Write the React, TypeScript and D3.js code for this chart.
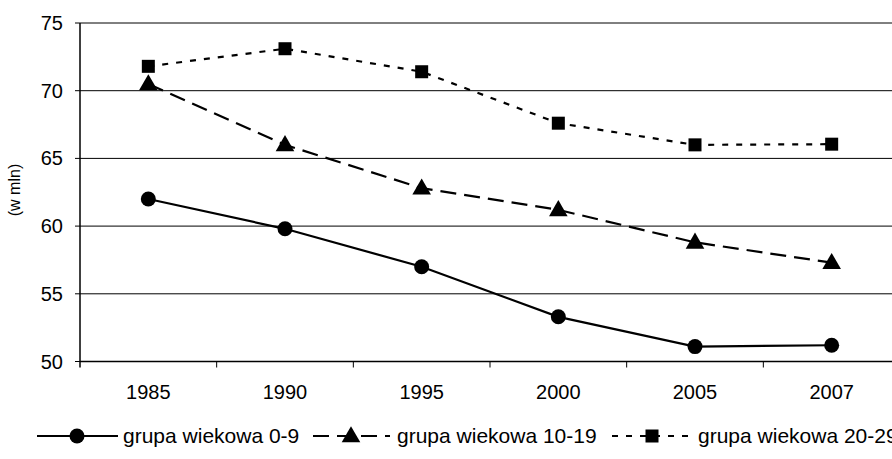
import React from "react";
import * as d3 from "d3";

const years = ["1985", "1990", "1995", "2000", "2005", "2007"];
const group0_9 = [62.0, 59.8, 57.0, 53.3, 51.1, 51.2];
const group10_19 = [70.5, 66.0, 62.8, 61.2, 58.8, 57.3];
const group20_29 = [71.8, 73.1, 71.4, 67.6, 66.0, 66.05];
const yTicks = [50, 55, 60, 65, 70, 75];
const seriesNames = ["grupa wiekowa 0-9", "grupa wiekowa 10-19", "grupa wiekowa 20-29"];

const W = 892;
const H = 459;
const left = 80;
const right = 900;
const top = 23;
const bottom = 361.5;

const series = [
  { name: seriesNames[0], values: group0_9, dash: "none", marker: "circle" },
  { name: seriesNames[1], values: group10_19, dash: "16,8", marker: "triangle" },
  { name: seriesNames[2], values: group20_29, dash: "6,8", marker: "square" },
];

function Marker({ type, x, y }: { type: string; x: number; y: number }) {
  if (type === "circle") return <circle cx={x} cy={y} r={7.5} fill="#000" />;
  if (type === "triangle") {
    const sym = d3.symbol(d3.symbolTriangle, 150)();
    return <path d={sym || ""} transform={`translate(${x},${y + 1})`} fill="#000" />;
  }
  return <rect x={x - 6.5} y={y - 6.5} width={13} height={13} fill="#000" />;
}

export default function App() {
  const x = d3.scaleBand().domain(years).range([left, right]);
  const y = d3.scaleLinear().domain([50, 75]).range([bottom, top]);
  const line = d3
    .line<number>()
    .x((_, i) => (x(years[i]) as number) + x.bandwidth() / 2)
    .y((d) => y(d));

  const legend = [
    { x0: 37, x1: 118, mx: 77, tx: 123 },
    { x0: 313, x1: 390, mx: 351, tx: 397 },
    { x0: 612, x1: 692, mx: 652, tx: 698 },
  ];
  const font = "'Liberation Sans', Arial, sans-serif";

  return (
    <svg
      width={W}
      height={H}
      style={{ position: "absolute", left: 0, top: 0, background: "#fff" }}
      fontFamily={font}
    >
      {yTicks.map((t) => (
        <g key={t}>
          {t > 50 && (
            <line x1={left} x2={right} y1={y(t)} y2={y(t)} stroke="#000" strokeWidth={1} />
          )}
          <line x1={left - 5} x2={left} y1={y(t)} y2={y(t)} stroke="#000" />
          <text x={left - 17} y={y(t)} dy="0.35em" textAnchor="end" fontSize={20}>
            {t}
          </text>
        </g>
      ))}
      <line x1={left} x2={left} y1={top} y2={bottom + 6} stroke="#000" strokeWidth={1.5} />
      <line x1={left} x2={right} y1={bottom} y2={bottom} stroke="#000" strokeWidth={1.5} />
      {years.map((yr) => (
        <g key={yr}>
          <line
            x1={(x(yr) as number) + x.bandwidth()}
            x2={(x(yr) as number) + x.bandwidth()}
            y1={bottom}
            y2={bottom + 6}
            stroke="#000"
          />
          <text
            x={(x(yr) as number) + x.bandwidth() / 2}
            y={bottom + 30}
            dy="0.35em"
            textAnchor="middle"
            fontSize={20}
          >
            {yr}
          </text>
        </g>
      ))}
      <text
        transform={`translate(14,190) rotate(-90)`}
        textAnchor="middle"
        dy="0.35em"
        fontSize={16}
      >
        (w mln)
      </text>
      {series.map((s) => (
        <g key={s.name}>
          <path
            d={line(s.values) || ""}
            fill="none"
            stroke="#000"
            strokeWidth={2.2}
            strokeDasharray={s.dash}
          />
          {s.values.map((v, i) => (
            <Marker
              key={i}
              type={s.marker}
              x={(x(years[i]) as number) + x.bandwidth() / 2}
              y={y(v)}
            />
          ))}
        </g>
      ))}
      {series.map((s, i) => (
        <g key={"lg" + s.name}>
          <line
            x1={legend[i].x0}
            x2={legend[i].x1}
            y1={436}
            y2={436}
            stroke="#000"
            strokeWidth={2.2}
            strokeDasharray={s.dash}
          />
          <Marker type={s.marker} x={legend[i].mx} y={436} />
          <text x={legend[i].tx} y={436} dy="0.35em" fontSize={21}>
            {s.name}
          </text>
        </g>
      ))}
    </svg>
  );
}
